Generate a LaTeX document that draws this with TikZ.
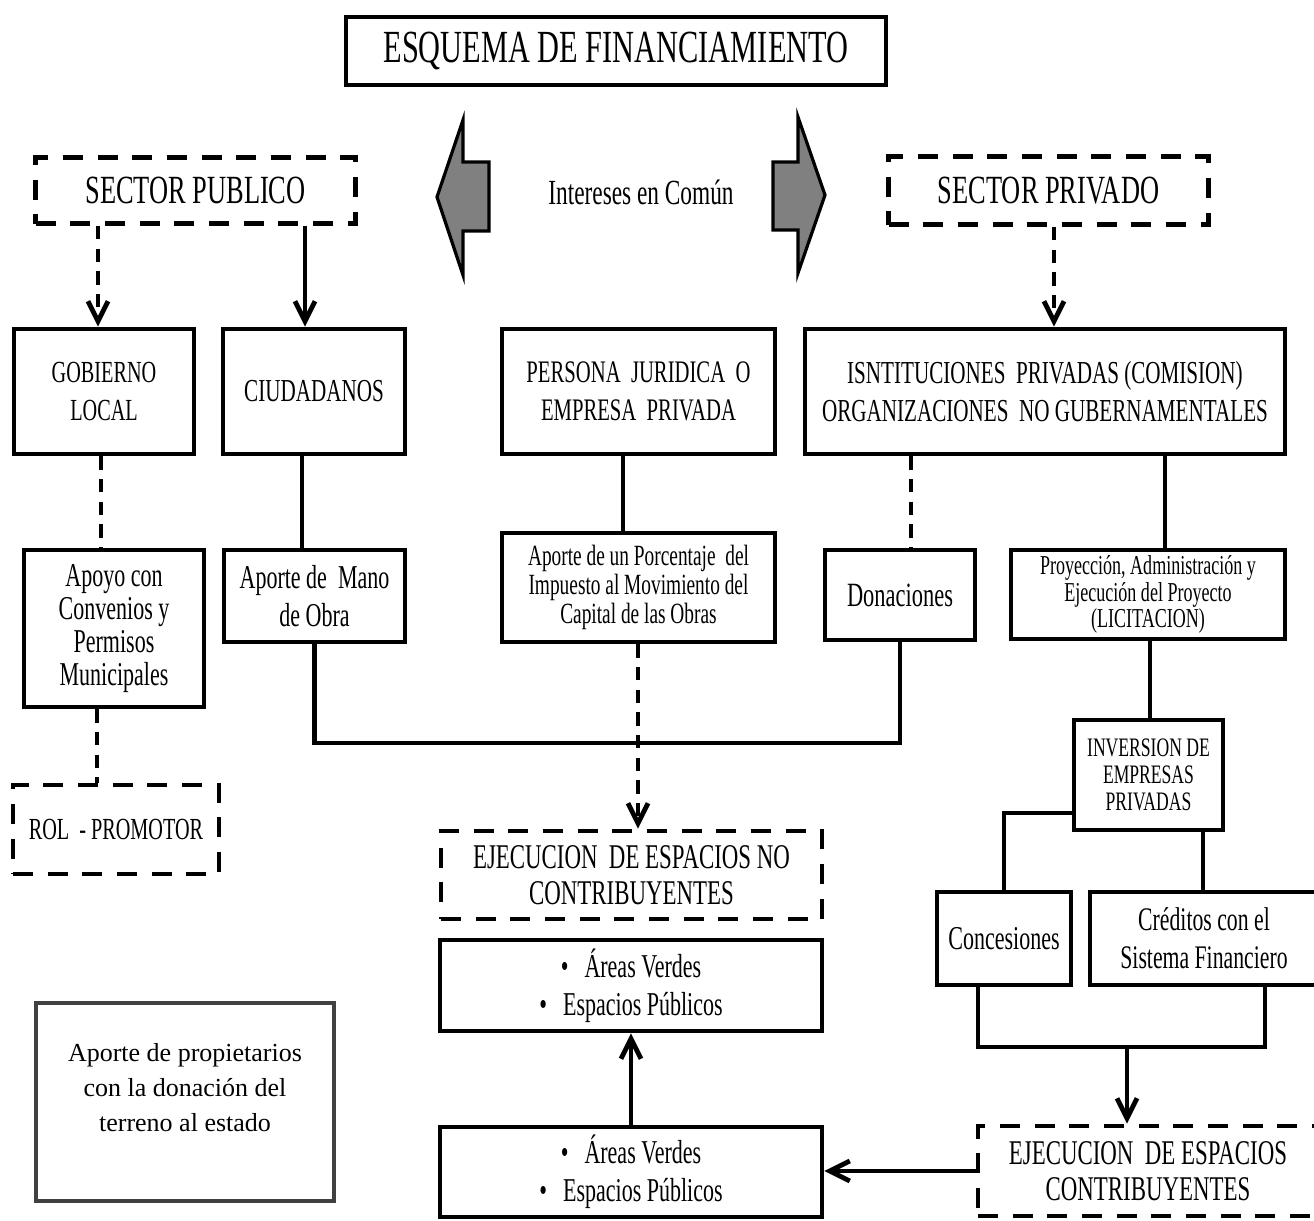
\documentclass[tikz,border=0pt]{standalone}
\usepackage{fontspec}
\setmainfont{Liberation Serif}
\newfontfamily\cond{Liberation Serif}[FakeStretch=0.66]
\usetikzlibrary{arrows.meta}
\newcommand\fs[2]{\fontsize{#1}{#2}\selectfont}
\begin{document}
\begin{tikzpicture}[x=0.75pt,y=-0.75pt,
  bx/.style={draw, line width=3.6pt, inner sep=0pt, align=center},
  dbx/.style={bx, dash pattern=on 15pt off 11pt},
  sz/.style 2 args={minimum width=#1*0.75pt, minimum height=#2*0.75pt},
  ln/.style={line width=3.6pt},
  dln/.style={line width=3.6pt, dash pattern=on 10pt off 7pt},
  tip/.style={-{Straight Barb[length=15pt,width=15pt]}},
  blk/.style={draw, line width=2.4pt, fill=gray, line join=miter}
]
\useasboundingbox (0,0) rectangle (1314,1221);

% title and sectors
\node[bx, line width=3pt, sz={540}{68}, font=\cond\fs{34.5}{40}] (title) at (616,51) {ESQUEMA DE FINANCIAMIENTO};
\node[dbx, sz={320}{66}, font=\cond\fs{30}{34}] (sp) at (195.5,190.5) {SECTOR PUBLICO};
\node[dbx, sz={320}{68}, font=\cond\fs{30}{34}] (spr) at (1048.5,190.5) {SECTOR PRIVADO};

% common interests
\draw[blk] (437,197) -- (463,120) -- (463,162) -- (489,162) -- (489,231) -- (463,231) -- (463,275) -- cycle;
\draw[blk] (825,195) -- (798,117) -- (798,162) -- (773,162) -- (773,230) -- (798,230) -- (798,273) -- cycle;
\node[font=\cond\fs{26.5}{30}] (int) at (641,192) {Intereses en Común};

% row 2
\node[bx, sz={180}{125}, font=\cond\fs{23}{28.5}] (gob) at (104,391.5) {GOBIERNO\\LOCAL};
\node[bx, sz={182}{125}, font=\cond\fs{24}{28.5}] (ciu) at (314,391.5) {CIUDADANOS};
\node[bx, sz={273}{125}, font=\cond\fs{23.5}{28.5}] (per) at (638.5,391.5) {PERSONA \ JURIDICA \ O\\EMPRESA \ PRIVADA};
\node[bx, sz={480}{125}, font=\cond\fs{24}{28.5}] (ins) at (1045,391.5) {ISNTITUCIONES \ PRIVADAS (COMISION)\\ORGANIZACIONES \ NO GUBERNAMENTALES};

% row 3
\node[bx, sz={180}{157}, font=\cond\fs{25}{24.75}] (apo) at (114,628.5) {Apoyo con\\Convenios y\\Permisos\\Municipales};
\node[bx, sz={181}{92}, font=\cond\fs{25}{28.5}] (man) at (314.5,596) {Aporte de \ Mano\\de Obra};
\node[bx, sz={273}{109}, font=\cond\fs{22}{21.75}] (imp) at (638.5,587.5) {Aporte de un Porcentaje \ del\\Impuesto al Movimiento del\\Capital de las Obras};
\node[bx, sz={150}{90}, font=\cond\fs{25.5}{30}] (don) at (900,595) {Donaciones};
\node[bx, sz={274}{89}, font=\cond\fs{20.5}{18}] (pro) at (1148,594.5) {Proyección, Administración y\\Ejecución del Proyecto\\(LICITACION)};

% lower nodes
\node[dbx, sz={206}{89}, font=\cond\fs{23}{28}] (rol) at (116,829.5) {ROL \ - PROMOTOR};
\node[dbx, sz={381}{88}, font=\cond\fs{26}{27}] (enc) at (631.5,875) {EJECUCION \ DE ESPACIOS NO\\CONTRIBUYENTES};
\node[bx, sz={382}{91}, font=\cond\fs{25}{28.5}] (av1) at (631,985.5) {\textbullet\hspace{12pt}Áreas Verdes\\\textbullet\hspace{12pt}Espacios Públicos};
\node[bx, sz={382}{90}, font=\cond\fs{25}{28.5}] (av2) at (631,1172) {\textbullet\hspace{12pt}Áreas Verdes\\\textbullet\hspace{12pt}Espacios Públicos};
\node[bx, sz={149}{110}, font=\cond\fs{20}{20}] (inv) at (1148.5,775) {INVERSION DE\\EMPRESAS\\PRIVADAS};
\node[bx, sz={134}{93}, font=\cond\fs{25}{30}] (con) at (1004,938.5) {Concesiones};
\node[bx, sz={228}{93}, font=\cond\fs{24.7}{28.5}] (cre) at (1204,938.5) {Créditos con el\\Sistema Financiero};
\node[dbx, sz={340}{90}, font=\cond\fs{26}{27}] (ec) at (1148,1171) {EJECUCION \ DE ESPACIOS\\CONTRIBUYENTES};

\node[draw=black!75, line width=3pt, sz={298}{198}] (apr) at (185,1102) {};
\node[font=\fs{19.5}{26.25}, align=center] (aprt) at (185,1088) {Aporte de propietarios\\con la donación del\\terreno al estado};

% column coordinates
\coordinate (c98) at (98,0);
\coordinate (c305) at (305,0);
\coordinate (c1054) at (1054,0);
\coordinate (c101) at (101,0);
\coordinate (c302) at (302,0);
\coordinate (c623) at (623,0);
\coordinate (c911) at (911,0);
\coordinate (c1165) at (1165,0);
\coordinate (c97) at (97,0);
\coordinate (c638) at (638,0);
\coordinate (c1150) at (1150,0);
\coordinate (c1203) at (1203,0);
\coordinate (c978) at (978,0);
\coordinate (c1265) at (1265,0);
\coordinate (j1) at (600,743);
\coordinate (j2) at (0,813);
\coordinate (j3) at (1127,1047);

% connectors
\draw[dln,tip] (sp.south -| c98) -- (gob.north -| c98);
\draw[ln,tip] (sp.south -| c305) -- (ciu.north -| c305);
\draw[dln,tip] (spr.south -| c1054) -- (ins.north -| c1054);
\draw[dln] (gob.south -| c101) -- (apo.north -| c101);
\draw[ln] (ciu.south -| c302) -- (man.north -| c302);
\draw[ln] (per.south -| c623) -- (imp.north -| c623);
\draw[dln] (ins.south -| c911) -- (don.north -| c911);
\draw[ln] (ins.south -| c1165) -- (pro.north -| c1165);
\draw[dln] (apo.south -| c97) -- (rol.north -| c97);
\draw[ln] (man.south) |- (j1) -| (don.south);
\draw[dln,tip] (imp.south -| c638) -- (enc.north -| c638);
\draw[ln,tip] (av2.north) -- (av1.south);
\draw[ln,tip] (ec.west) -- (av2.east |- ec.west);
\draw[ln] (pro.south -| c1150) -- (inv.north -| c1150);
\draw[ln] (inv.west |- j2) -| (con.north);
\draw[ln] (inv.south -| c1203) -- (cre.north -| c1203);
\draw[ln] (con.south -| c978) |- (j3) -| (cre.south -| c1265);
\draw[ln,tip] (j3) -- (ec.north -| j3);
\end{tikzpicture}
\end{document}
